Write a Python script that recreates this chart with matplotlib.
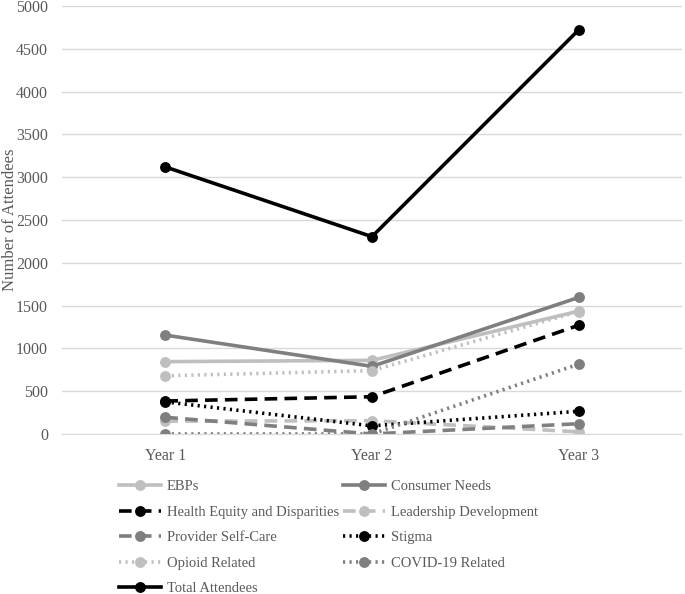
import matplotlib
matplotlib.use("Agg")
import matplotlib.pyplot as plt

plt.rcParams['font.family'] = ['Liberation Serif', 'DejaVu Serif']

years = ["Year 1", "Year 2", "Year 3"]
ebps = [845, 860, 1435]
consumer_needs = [1155, 790, 1595]
health_equity = [385, 435, 1270]
leadership = [150, 155, 25]
provider_self_care = [195, 0, 120]
stigma = [375, 95, 265]
opioid = [680, 740, 1430]
covid = [0, 0, 815]
total = [3120, 2305, 4720]

series = [
    ("EBPs", ebps, "#bfbfbf", "-"),
    ("Consumer Needs", consumer_needs, "#7f7f7f", "-"),
    ("Health Equity and Disparities", health_equity, "#000000", (0, (3.5, 2))),
    ("Leadership Development", leadership, "#bfbfbf", (0, (3.5, 2))),
    ("Provider Self-Care", provider_self_care, "#7f7f7f", (0, (3.5, 2))),
    ("Stigma", stigma, "#000000", (0, (0.6, 1.2))),
    ("Opioid Related", opioid, "#bfbfbf", (0, (0.6, 1.2))),
    ("COVID-19 Related", covid, "#7f7f7f", (0, (0.6, 1.2))),
    ("Total Attendees", total, "#000000", "-"),
]

fig = plt.figure(figsize=(6.85, 5.94), dpi=100)
ax = fig.add_axes([0.0905, 0.2694, 0.905, 0.7205])
x = list(range(len(years)))
handles = []
for name, vals, color, ls in series:
    h, = ax.plot(x, vals, color=color, linestyle=ls, linewidth=2.6,
                 marker="o", markersize=6.8, markerfacecolor=color,
                 markeredgecolor=color, label=name, dash_capstyle="butt")
    handles.append(h)

ax.set_xlim(-0.5, 2.5)
ax.set_ylim(0, 5000)
ax.set_yticks(range(0, 5001, 500))
ax.set_xticks(x)
ax.set_xticklabels(years)
ax.yaxis.grid(True, color="#d9d9d9", linewidth=1.0)
ax.set_axisbelow(True)
for s in ["top", "right", "left"]:
    ax.spines[s].set_visible(False)
ax.spines["bottom"].set_color("#d9d9d9")
ax.tick_params(axis="y", length=0, labelsize=11.5, colors="#595959", pad=10)
ax.tick_params(axis="x", length=0, labelsize=11.5, colors="#595959", pad=10)
fig.text(10 / 685, 1 - 220 / 594, "Number of Attendees", rotation=90,
         ha="center", va="center", fontsize=12, color="#595959")

order = [0, 2, 4, 6, 8, 1, 3, 5, 7]
leg = fig.legend([handles[i] for i in order], [series[i][0] for i in order],
                 loc="upper left", bbox_to_anchor=(0.173, 0.1915), ncol=2,
                 frameon=False, fontsize=10.5, handlelength=2.9,
                 handletextpad=0.4, columnspacing=0.3, labelspacing=0.84,
                 borderaxespad=0, borderpad=0, labelcolor="#595959")

fig.savefig("out.png", dpi=100)
